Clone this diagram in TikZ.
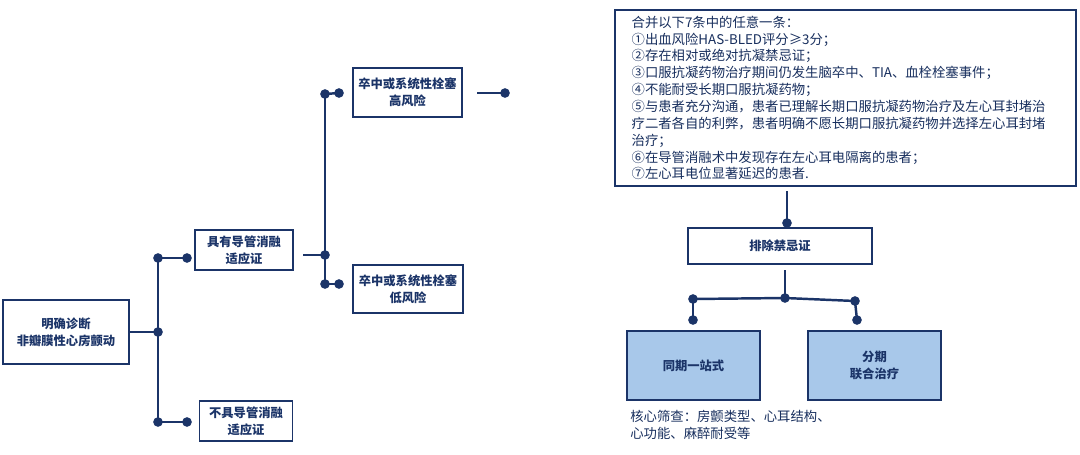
\documentclass[tikz,border=0pt]{standalone}
\usepackage{fontspec}
\setmainfont{Noto Sans CJK SC}
\begin{document}
\begin{tikzpicture}[x=0.02cm,y=-0.02cm,
  box/.style={draw=dk,line width=1.1pt,fill=white,inner sep=0pt,font=\bfseries\fontsize{7}{9.6}\selectfont,align=center,text=dk},
  fbox/.style={box,fill=lb},
  ln/.style={draw=dk,line width=1.4pt},
  dot/.style={circle,fill=dk,inner sep=0pt,minimum size=5.5pt}]
\definecolor{dk}{HTML}{1B3468}
\definecolor{lb}{HTML}{A8C8EA}
\useasboundingbox (0,0) rectangle (1080,454);
\node[box,minimum width=126*0.02cm,minimum height=64*0.02cm] (A) at (66,332) {明确诊断\\非瓣膜性心房颤动};
\node[box,minimum width=98*0.02cm,minimum height=40*0.02cm] (B) at (244,250) {具有导管消融\\适应证};
\node[box,minimum width=93*0.02cm,minimum height=40*0.02cm] (C) at (246,421) {不具导管消融\\适应证};
\node[box,minimum width=109*0.02cm,minimum height=49*0.02cm] (D) at (407.5,92.5) {卒中或系统性栓塞\\高风险};
\node[box,minimum width=110*0.02cm,minimum height=48*0.02cm] (E) at (408,289) {卒中或系统性栓塞\\低风险};
\node[box,minimum width=461*0.02cm,minimum height=176*0.02cm,font=\fontsize{7.6}{9.6}\selectfont,align=left,anchor=north west,text=dk!90!black] (T) at (614,9) {\hspace*{7pt}\parbox{8.8cm}{合并以下7条中的任意一条：\\①出血风险HAS-BLED评分≥3分；\\②存在相对或绝对抗凝禁忌证；\\③口服抗凝药物治疗期间仍发生脑卒中、TIA、血栓栓塞事件；\\④不能耐受长期口服抗凝药物；\\⑤与患者充分沟通，患者已理解长期口服抗凝药物治疗及左心耳封堵治\\疗二者各自的利弊，患者明确不愿长期口服抗凝药物并选择左心耳封堵\\治疗；\\⑥在导管消融术中发现存在左心耳电隔离的患者；\\⑦左心耳电位显著延迟的患者.}};
\node[box,minimum width=184*0.02cm,minimum height=36*0.02cm] (F) at (780,246) {排除禁忌证};
\node[fbox,minimum width=133*0.02cm,minimum height=69*0.02cm] (G) at (693.5,365.5) {同期一站式};
\node[fbox,minimum width=133*0.02cm,minimum height=69*0.02cm] (H) at (874.5,365.5) {分期\\联合治疗};
\node[anchor=north west,align=left,font=\fontsize{7.6}{9.6}\selectfont,text=dk!90!black,inner sep=0pt] (N) at (630,410) {核心筛查：房颤类型、心耳结构、\\心功能、麻醉耐受等};
% connectors
\coordinate (a1) at (158,258); \coordinate (a2) at (158,332); \coordinate (a3) at (158,422);
\coordinate (a4) at (187,258); \coordinate (a5) at (187,422);
\draw[ln] (A.east) -- (a2); \draw[ln] (a1) -- (a3); \draw[ln] (a1) -- (a4); \draw[ln] (a3) -- (a5);
\foreach \p in {a1,a2,a3,a4,a5} \node[dot] at (\p) {};
\coordinate (b0) at (303,255); \coordinate (b1) at (325,94); \coordinate (b2) at (325,255); \coordinate (b3) at (325,284);
\coordinate (b4) at (339,93); \coordinate (b5) at (339,284);
\draw[ln] (b0) -- (b2); \draw[ln] (b1) -- (b3); \draw[ln] (b1) -- (b4); \draw[ln] (b3) -- (b5);
\foreach \p in {b1,b2,b3,b4,b5} \node[dot] at (\p) {};
\coordinate (d0) at (477,93); \coordinate (d1) at (505,93);
\draw[ln] (d0) -- (d1); \node[dot] at (d1) {};
\coordinate (t0) at (787,191); \coordinate (t1) at (787,223);
\draw[ln] (t0) -- (t1); \node[dot] at (t1) {};
\coordinate (f0) at (785,270); \coordinate (f1) at (785,298); \coordinate (f2) at (693,299); \coordinate (f3) at (855,301);
\coordinate (f4) at (693,320); \coordinate (f5) at (857,320);
\draw[ln] (f0) -- (f1); \draw[ln] (f2) -- (f1) -- (f3); \draw[ln] (f2) -- (f4); \draw[ln] (f3) -- (f5);
\foreach \p in {f1,f2,f3,f4,f5} \node[dot] at (\p) {};
\end{tikzpicture}
\end{document}
